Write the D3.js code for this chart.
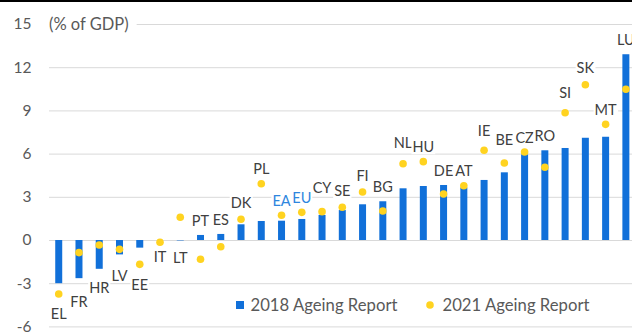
<!DOCTYPE html>
<html>
<head>
<meta charset="utf-8">
<script src="https://cdn.jsdelivr.net/npm/d3@7"></script>
<style>
  html, body { margin: 0; padding: 0; background: #fff; }
  svg { display: block; font-family: Lato, "Open Sans", sans-serif; }
</style>
</head>
<body>
<script>
// Countries, ordered by the 2018 projection
const categories = ["EL","FR","HR","LV","EE","IT","LT","PT","ES","DK","PL","EA","EU","CY","SE","FI","BG","NL","HU","DE","AT","IE","BE","CZ","RO","SI","SK","MT","LU"];
// Change in spending, % of GDP
const report2018 = [-3.0,-2.65,-2.0,-1.0,-0.53,0.0,-0.03,0.35,0.42,1.09,1.32,1.34,1.46,1.74,2.08,2.48,2.69,3.59,3.75,3.82,3.65,4.17,4.70,5.95,6.23,6.39,7.10,7.17,12.9];
const report2021 = [-3.75,-0.88,-0.35,-0.65,-1.69,-0.16,1.58,-1.34,-0.47,1.44,3.91,1.72,1.92,1.97,2.27,3.33,2.01,5.30,5.44,3.19,3.77,6.23,5.35,6.11,5.05,8.84,10.78,8.03,10.47];
const yTicks = [-6,-3,0,3,6,9,12,15];
const aggregates = ["EA","EU"];
const seriesNames = ["2018 Ageing Report","2021 Ageing Report"];

// Hand-placed label adjustments (px, positive = further from the marks)
const labelShift = { NL: 6, IE: 5, BE: 8.5, SI: 5, CY: 9, SK: 2, FI: 1.5, SE: 1.5, DK: 1.5,
                     FR: 4, LV: 2, IT: -4.5, LT: -2.5, EE: 1 };

const W = 632, H = 332;
const BLUE = "#1170D9", GOLD = "#FFD320";

const svg = d3.select("body").append("svg").attr("width", W).attr("height", H);

const x = d3.scaleBand().domain(categories).range([48.6, 636])
  .paddingInner(0.655).paddingOuter(0.3275);
const y = d3.scaleLinear().domain([-6, 15]).range([326.4, 24]);

// Gridlines + value labels
const axis = svg.append("g").attr("transform", "translate(49,0)")
  .call(d3.axisLeft(y).tickValues(yTicks).tickSizeInner(-600).tickSizeOuter(0)
    .tickPadding(17.5).tickFormat(d => String(d)));
axis.select(".domain").remove();
axis.selectAll("line").attr("stroke", "#D9D9D9");
axis.selectAll("text").attr("fill", "#595959").style("font-size", "15.5px")
  .style("font-family", "Lato, sans-serif");

// Unit caption on the top gridline
const unit = svg.append("g");
const unitText = unit.append("text").attr("x", 49).attr("y", y(15)).attr("dy", "0.35em")
  .attr("fill", "#595959").style("font-size", "16.5px").text("(% of GDP)");
const ub = unitText.node().getBBox();
unit.insert("rect", "text").attr("x", ub.x - 2).attr("y", ub.y).attr("width", ub.width + 10)
  .attr("height", ub.height).attr("fill", "#fff");

const rows = categories.map((c, i) => ({ c, a: report2018[i], b: report2021[i] }));

// 2018 bars
svg.append("g").selectAll("rect").data(rows).join("rect")
  .attr("x", d => x(d.c)).attr("width", x.bandwidth())
  .attr("y", d => y(Math.max(0, d.a)))
  .attr("height", d => Math.abs(y(d.a) - y(0)))
  .attr("fill", BLUE);

// 2021 dots
svg.append("g").selectAll("circle").data(rows).join("circle")
  .attr("cx", d => x(d.c) + x.bandwidth() / 2).attr("cy", d => y(d.b))
  .attr("r", 3.8).attr("fill", GOLD);

// Country labels, above the higher mark or below the lower one
const lab = svg.append("g").selectAll("g").data(rows).join("g");
lab.append("text")
  .attr("x", d => x(d.c) + x.bandwidth() / 2)
  .attr("y", d => {
    const s = labelShift[d.c] || 0;
    return d.a > 0 ? y(Math.max(d.a, d.b)) - 14.5 - s : y(Math.min(d.a, d.b, 0)) + 19.5 + s;
  })
  .attr("dy", "0.35em").attr("text-anchor", "middle")
  .style("font-size", "14.5px")
  .attr("fill", d => aggregates.includes(d.c) ? "#2E86DE" : "#404040")
  .text(d => d.c);
lab.each(function() {
  const g = d3.select(this);
  const bb = g.select("text").node().getBBox();
  g.insert("rect", "text").attr("x", bb.x - 1).attr("y", bb.y + 1)
    .attr("width", bb.width + 2).attr("height", bb.height - 2).attr("fill", "#fff");
});

// Legend
const leg = svg.append("g");
leg.append("rect").attr("x", 236).attr("y", 301).attr("width", 8).attr("height", 8).attr("fill", BLUE);
leg.append("text").attr("x", 250.5).attr("y", 305).attr("dy", "0.35em")
  .attr("fill", "#595959").style("font-size", "16.7px").text(seriesNames[0]);
leg.append("circle").attr("cx", 430).attr("cy", 305).attr("r", 3.8).attr("fill", GOLD);
leg.append("text").attr("x", 442.5).attr("y", 305).attr("dy", "0.35em")
  .attr("fill", "#595959").style("font-size", "16.7px").text(seriesNames[1]);

// Top rule
svg.append("rect").attr("x", 0).attr("y", 0).attr("width", W).attr("height", 2).attr("fill", "#000");
</script>
</body>
</html>
